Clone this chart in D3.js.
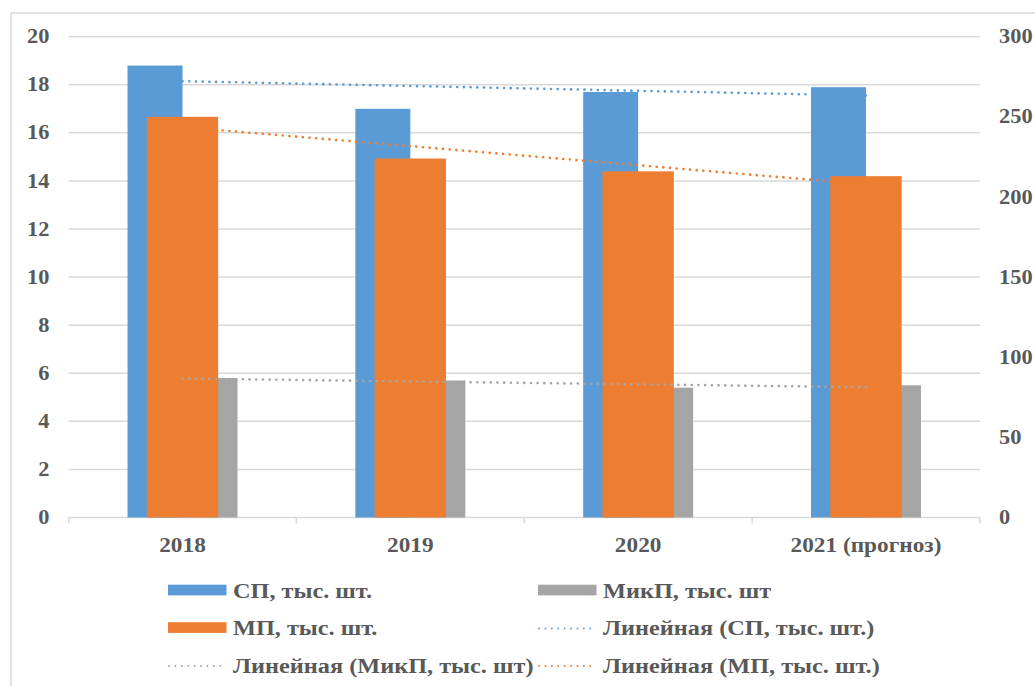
<!DOCTYPE html>
<html>
<head>
<meta charset="utf-8">
<script src="https://cdn.jsdelivr.net/npm/d3@7"></script>
<style>
  body { margin: 0; background: #fff; }
</style>
</head>
<body>
<div id="chart"></div>
<script>
/* data */
var years = ["2018", "2019", "2020", "2021 (прогноз)"];
var sp = [18.8, 17.0, 17.7, 17.9];      // СП, left axis
var mikp = [5.8, 5.7, 5.4, 5.5];        // МикП, left axis
var mp = [250, 224, 216, 213];          // МП, right axis
var leftTicks = [0, 2, 4, 6, 8, 10, 12, 14, 16, 18, 20];
var rightTicks = [0, 50, 100, 150, 200, 250, 300];

var cBlue = "#5b9bd5", cOrange = "#ed7d31", cGray = "#a5a5a5";
var SX = 1.12; // text is a bit wide in the picture
var FONT = "'Liberation Serif', 'Times New Roman', Tinos, 'Noto Serif', 'DejaVu Serif', serif";

var svg = d3.select("#chart").append("svg")
    .attr("width", 1035).attr("height", 686);

// outer chart border
svg.append("rect")
    .attr("x", 11).attr("y", 13).attr("width", 1100).attr("height", 760)
    .attr("fill", "none").attr("stroke", "#d9d9d9").attr("stroke-width", 1.5);

function label(x, y, str, anchor, size) {
    return svg.append("text")
        .attr("transform", "translate(" + x + "," + y + ") scale(" + SX + ",1)")
        .attr("text-anchor", anchor || "start")
        .attr("dominant-baseline", "central")
        .style("font-family", FONT)
        .attr("font-weight", "bold")
        .attr("fill", "#595959")
        .attr("font-size", (size || 20) + "px")
        .text(str);
}

// scales
var x = d3.scaleBand().domain(years).range([68.6, 979.9]);
var y = d3.scaleLinear().domain([0, 20]).range([517.5, 36.7]);
var y2 = d3.scaleLinear().domain([0, 300]).range([517.5, 36.7]);
var prim = d3.scaleBand().domain(["sp", "mikp"]).range([-55, 55]);
var mpW = 71.3;

// gridlines
svg.append("g").selectAll("line").data(leftTicks.slice(1)).join("line")
    .attr("x1", x.range()[0]).attr("x2", x.range()[1])
    .attr("y1", d => y(d)).attr("y2", d => y(d))
    .attr("stroke", "#d9d9d9").attr("stroke-width", 1.5);

// x axis line + ticks
var xb = years.map(d => x(d)).concat([x.range()[1]]);
svg.append("line")
    .attr("x1", x.range()[0]).attr("x2", x.range()[1])
    .attr("y1", y(0)).attr("y2", y(0))
    .attr("stroke", "#d9d9d9").attr("stroke-width", 1.5);
svg.append("g").selectAll("line").data(xb).join("line")
    .attr("x1", d => d).attr("x2", d => d)
    .attr("y1", y(0)).attr("y2", y(0) + 6)
    .attr("stroke", "#d9d9d9").attr("stroke-width", 1.5);

// axis labels
leftTicks.forEach(t => label(49.5, y(t), t, "end"));
rightTicks.forEach(t => label(999, y2(t), t, "start"));
years.forEach(d => label(x(d) + x.bandwidth() / 2, 545, d, "middle", 20.8));

// linear trend (least squares over category index)
function trend(vals) {
    var n = vals.length, xs = d3.range(1, n + 1);
    var mx = d3.mean(xs), my = d3.mean(vals);
    var b = d3.sum(xs, (xi, i) => (xi - mx) * (vals[i] - my)) / d3.sum(xs, xi => (xi - mx) * (xi - mx));
    return xs.map(xi => my + b * (xi - mx));
}
var line = d3.line().x(d => x(d.cat) + x.bandwidth() / 2).y(d => d.scale(d.v));
function drawTrend(vals, sc, color) {
    var pts = trend(vals).map((v, i) => ({ cat: years[i], v: v, scale: sc }));
    svg.append("path").datum(pts)
        .attr("fill", "none").attr("stroke", color)
        .attr("stroke-width", 2.6).attr("stroke-linecap", "round")
        .attr("stroke-dasharray", "0.1 6.6")
        .attr("d", line);
}

var cx = d => x(d) + x.bandwidth() / 2;

drawTrend(sp, y, cBlue);

// primary bars
svg.append("g").selectAll("rect").data(years).join("rect")
    .attr("x", d => cx(d) + prim("sp")).attr("width", prim.bandwidth())
    .attr("y", (d, i) => y(sp[i])).attr("height", (d, i) => y(0) - y(sp[i]))
    .attr("fill", cBlue);
svg.append("g").selectAll("rect").data(years).join("rect")
    .attr("x", d => cx(d) + prim("mikp")).attr("width", prim.bandwidth())
    .attr("y", (d, i) => y(mikp[i])).attr("height", (d, i) => y(0) - y(mikp[i]))
    .attr("fill", cGray);

drawTrend(mp, y2, cOrange);

// secondary bars
svg.append("g").selectAll("rect").data(years).join("rect")
    .attr("x", d => cx(d) - mpW / 2).attr("width", mpW)
    .attr("y", (d, i) => y2(mp[i])).attr("height", (d, i) => y2(0) - y2(mp[i]))
    .attr("fill", cOrange);

drawTrend(mikp, y, cGray);

// legend
var legend = [
    { name: "СП, тыс. шт.", color: cBlue, type: "bar", col: 0, row: 0 },
    { name: "МикП, тыс. шт", color: cGray, type: "bar", col: 1, row: 0 },
    { name: "МП, тыс. шт.", color: cOrange, type: "bar", col: 0, row: 1 },
    { name: "Линейная (СП, тыс. шт.)", color: cBlue, type: "line", col: 1, row: 1 },
    { name: "Линейная (МикП, тыс. шт)", color: cGray, type: "line", col: 0, row: 2 },
    { name: "Линейная (МП, тыс. шт.)", color: cOrange, type: "line", col: 1, row: 2 }
];
var colX = [168, 538], rowY = [590, 627.5, 665];
legend.forEach(function (d) {
    var lx = colX[d.col], ly = rowY[d.row];
    if (d.type === "bar") {
        svg.append("rect").attr("x", lx).attr("y", ly - 5.3)
            .attr("width", 58.5).attr("height", 10.7).attr("fill", d.color);
    } else {
        svg.append("line").attr("x1", lx + 1).attr("x2", lx + 56)
            .attr("y1", ly + 1).attr("y2", ly + 1)
            .attr("stroke", d.color).attr("stroke-width", 1.8)
            .attr("stroke-linecap", "round").attr("stroke-dasharray", "0.1 6.3");
    }
    label(lx + 65, ly, d.name, "start", 21.7);
});
</script>
</body>
</html>
